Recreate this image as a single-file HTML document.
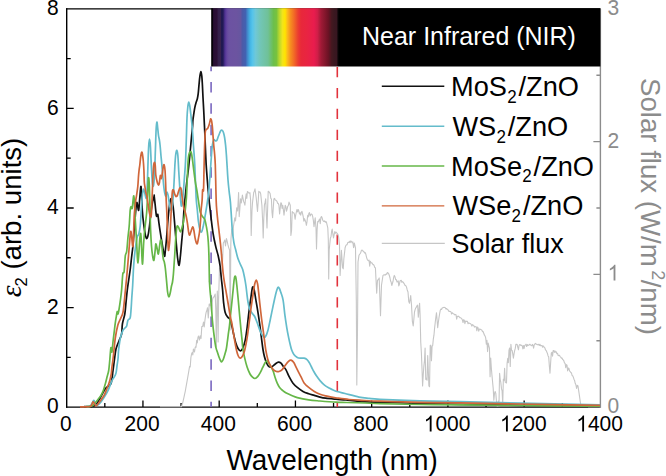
<!DOCTYPE html>
<html><head><meta charset="utf-8"><title>Chart</title>
<style>html,body{margin:0;padding:0;background:#fff;width:666px;height:476px;overflow:hidden}svg{display:block;position:absolute;left:0;top:0}</style>
</head><body><svg width="666" height="476" viewBox="0 0 666 476"><defs><linearGradient id="spec" gradientUnits="userSpaceOnUse" x1="211.2" y1="0" x2="339.0" y2="0"><stop offset="0.0000" stop-color="#000000"/><stop offset="0.0110" stop-color="#07030a"/><stop offset="0.0188" stop-color="#280f33"/><stop offset="0.0454" stop-color="#2c1036"/><stop offset="0.0548" stop-color="#34204a"/><stop offset="0.0736" stop-color="#38224e"/><stop offset="0.0814" stop-color="#1e1850"/><stop offset="0.0923" stop-color="#221a56"/><stop offset="0.1080" stop-color="#503294"/><stop offset="0.1236" stop-color="#6648a0"/><stop offset="0.1393" stop-color="#6c52a2"/><stop offset="0.1972" stop-color="#6c54a0"/><stop offset="0.2293" stop-color="#6656a0"/><stop offset="0.2449" stop-color="#4c5aa8"/><stop offset="0.2684" stop-color="#4262b2"/><stop offset="0.2864" stop-color="#4290d0"/><stop offset="0.3052" stop-color="#44b6e6"/><stop offset="0.3232" stop-color="#56c4ea"/><stop offset="0.3466" stop-color="#6ec8d8"/><stop offset="0.3818" stop-color="#72c6b8"/><stop offset="0.4444" stop-color="#70c198"/><stop offset="0.4875" stop-color="#6cbf4c"/><stop offset="0.5110" stop-color="#78c23e"/><stop offset="0.5305" stop-color="#b4d530"/><stop offset="0.5579" stop-color="#f0e41c"/><stop offset="0.5775" stop-color="#ffe400"/><stop offset="0.5970" stop-color="#fbb81c"/><stop offset="0.6205" stop-color="#f68e20"/><stop offset="0.6479" stop-color="#f26a26"/><stop offset="0.6792" stop-color="#eb3e30"/><stop offset="0.7027" stop-color="#e8283a"/><stop offset="0.7496" stop-color="#e92442"/><stop offset="0.8044" stop-color="#e91c4e"/><stop offset="0.8318" stop-color="#d01e48"/><stop offset="0.8592" stop-color="#a01a36"/><stop offset="0.8905" stop-color="#84162c"/><stop offset="0.9178" stop-color="#6a1224"/><stop offset="0.9413" stop-color="#461820"/><stop offset="0.9609" stop-color="#3a1820"/><stop offset="0.9804" stop-color="#381620"/><stop offset="0.9937" stop-color="#0a0608"/><stop offset="1.0000" stop-color="#000000"/></linearGradient></defs><line x1="66.7" y1="8.2" x2="66.7" y2="407.8" stroke="#000" stroke-width="1.4"/><line x1="66.0" y1="8.9" x2="600.4" y2="8.9" stroke="#000" stroke-width="1.4"/><line x1="66.0" y1="407.1" x2="600.4" y2="407.1" stroke="#000" stroke-width="1.4"/><line x1="600.4" y1="8.9" x2="600.4" y2="407.8" stroke="#8c8c8c" stroke-width="1.4"/><path d="M104.82,407.10V403.10 M142.94,407.10V400.60 M181.06,407.10V403.10 M219.19,407.10V400.60 M257.31,407.10V403.10 M295.43,407.10V400.60 M333.55,407.10V403.10 M371.67,407.10V400.60 M409.79,407.10V403.10 M447.91,407.10V400.60 M486.04,407.10V403.10 M524.16,407.10V400.60 M562.28,407.10V403.10 M66.70,357.33H70.70 M66.70,307.55H73.70 M66.70,257.77H70.70 M66.70,208.00H73.70 M66.70,158.22H70.70 M66.70,108.45H73.70 M66.70,58.67H70.70" stroke="#000" stroke-width="1.3" fill="none"/><path d="M600.40,340.73H596.40 M600.40,274.37H593.40 M600.40,208.00H596.40 M600.40,141.63H593.40 M600.40,75.27H596.40" stroke="#8c8c8c" stroke-width="1.3" fill="none"/><line x1="211.1" y1="66.5" x2="211.1" y2="407" stroke="#7a68c0" stroke-width="1.6" stroke-dasharray="10.5 10.82" stroke-dashoffset="5.8"/><line x1="337.3" y1="67.0" x2="337.3" y2="407" stroke="#e2323c" stroke-width="1.6" stroke-dasharray="10.2 10.73" stroke-dashoffset="0"/><path d="M160.00,406.70 L160.61,406.70 L161.22,406.70 L161.83,406.70 L162.45,406.70 L163.06,406.70 L163.67,406.70 L164.28,406.70 L164.89,406.70 L165.50,406.70 L166.11,406.70 L166.73,406.70 L167.34,406.70 L167.95,406.70 L168.56,406.70 L169.17,406.70 L169.78,406.70 L170.39,406.70 L171.01,406.70 L171.62,406.70 L172.23,406.70 L172.84,406.70 L173.45,406.70 L174.06,406.70 L174.67,406.70 L175.29,406.70 L175.90,406.70 L176.51,406.70 L177.12,406.70 L177.73,406.70 L178.34,406.70 L178.95,406.70 L179.57,406.70 L180.18,406.70 L180.79,406.70 L181.40,406.70 L182.05,404.85 L182.70,403.00 L183.32,400.15 L183.95,397.30 L184.57,394.45 L185.20,391.60 L185.82,388.12 L186.45,384.65 L187.07,381.18 L187.70,377.70 L188.33,373.93 L188.97,370.17 L189.60,366.40 L190.25,366.83 L190.90,357.60 L191.55,354.02 L192.20,352.50 L192.80,354.96 L193.40,349.00 L194.50,352.00 L195.23,347.02 L195.97,347.36 L196.70,340.40 L197.30,342.83 L197.90,337.77 L198.50,336.00 L199.50,340.00 L200.27,335.72 L201.03,338.50 L201.80,326.60 L202.65,326.38 L203.50,322.00 L204.20,327.00 L204.90,320.64 L205.60,315.20 L206.23,311.93 L206.87,310.53 L207.50,307.70 L208.30,318.00 L209.20,304.00 L209.90,305.71 L210.60,302.60 L211.50,312.00 L212.60,299.00 L213.30,297.29 L214.00,297.00 L215.20,294.00 L215.80,310.00 L216.30,347.00 L216.80,310.00 L217.30,291.00 L217.70,300.00 L218.10,342.00 L218.60,300.00 L219.50,268.00 L220.20,275.00 L220.95,264.33 L221.70,254.00 L222.50,262.00 L223.30,243.10 L224.05,241.76 L224.80,240.00 L225.50,246.00 L226.40,238.50 L227.15,241.12 L227.90,244.70 L228.75,247.83 L229.60,250.00 L230.20,330.00 L230.80,245.00 L231.00,238.50 L231.80,229.10 L232.90,236.00 L233.50,226.00 L234.15,222.08 L234.80,217.80 L235.50,221.00 L236.70,207.70 L237.60,211.00 L238.60,192.60 L239.20,216.60 L239.85,208.65 L240.50,198.90 L241.30,203.00 L242.40,195.10 L243.60,201.40 L244.25,202.79 L244.90,205.20 L245.55,198.63 L246.20,193.90 L246.80,198.33 L247.40,191.53 L248.00,192.00 L248.63,192.83 L249.27,193.30 L249.90,192.60 L250.60,200.00 L251.20,235.50 L252.00,210.00 L252.50,202.70 L253.70,192.60 L254.35,191.17 L255.00,188.80 L256.20,197.70 L256.85,204.79 L257.50,211.50 L258.15,202.22 L258.80,191.30 L259.43,192.10 L260.07,191.98 L260.70,193.90 L261.90,205.20 L262.60,220.00 L263.20,238.00 L263.80,218.00 L264.40,205.20 L265.05,202.40 L265.70,198.90 L266.35,214.17 L267.00,227.90 L268.20,191.30 L268.85,191.68 L269.50,192.60 L270.13,193.55 L270.77,198.30 L271.40,198.90 L272.00,212.23 L272.60,217.80 L273.25,208.09 L273.90,198.90 L274.53,198.33 L275.17,199.89 L275.80,200.20 L277.00,201.40 L277.63,203.43 L278.27,203.40 L278.90,205.20 L279.60,214.00 L280.80,202.70 L281.43,203.19 L282.07,208.35 L282.70,205.20 L283.35,209.61 L284.00,215.30 L285.20,205.20 L285.83,206.43 L286.47,211.26 L287.10,209.00 L287.73,206.39 L288.37,205.49 L289.00,202.10 L289.65,203.69 L290.30,205.20 L290.90,235.50 L291.55,230.42 L292.20,211.50 L293.00,212.77 L293.80,212.70 L294.43,214.25 L295.07,219.30 L295.70,215.20 L296.90,209.50 L297.53,211.93 L298.17,209.56 L298.80,210.80 L299.43,213.95 L300.07,212.78 L300.70,215.20 L301.35,212.16 L302.00,211.40 L303.20,216.50 L303.83,221.30 L304.47,218.67 L305.10,220.30 L305.75,221.89 L306.40,225.30 L307.05,221.43 L307.70,215.20 L308.30,216.84 L308.90,213.16 L309.50,212.70 L310.13,216.04 L310.77,214.65 L311.40,214.00 L312.05,214.40 L312.70,216.50 L313.35,220.41 L314.00,226.60 L315.20,217.70 L316.00,228.00 L316.50,249.00 L317.10,230.00 L317.70,221.50 L318.33,221.82 L318.97,220.30 L319.60,219.00 L320.23,223.71 L320.87,217.41 L321.50,216.50 L322.15,217.99 L322.80,220.30 L323.43,221.25 L324.07,221.55 L324.70,220.90 L325.33,222.30 L325.97,221.51 L326.60,222.80 L327.80,227.80 L328.30,240.00 L328.70,279.00 L329.20,250.00 L330.40,237.90 L331.00,236.76 L331.60,231.50 L332.20,229.10 L332.85,233.96 L333.50,237.90 L334.15,234.62 L334.80,231.60 L335.43,233.20 L336.07,232.14 L336.70,232.90 L337.33,233.51 L337.97,234.72 L338.60,236.70 L339.50,245.00 L340.10,275.40 L340.75,263.76 L341.40,250.20 L342.00,258.95 L342.60,267.80 L343.23,268.80 L343.85,258.73 L344.48,253.33 L345.10,247.70 L345.75,245.78 L346.40,244.82 L347.05,244.82 L347.70,242.60 L348.32,242.20 L348.93,242.65 L349.55,241.25 L350.17,242.61 L350.78,240.89 L351.40,241.40 L352.12,242.76 L352.85,241.90 L353.57,247.75 L354.30,243.00 L355.50,248.00 L356.30,300.00 L356.80,385.00 L357.50,330.00 L358.00,262.00 L359.00,255.20 L359.62,254.25 L360.25,253.57 L360.88,252.19 L361.50,250.20 L362.13,250.04 L362.77,250.62 L363.40,251.62 L364.03,251.70 L364.67,253.10 L365.30,252.70 L365.93,254.52 L366.55,257.31 L367.18,259.24 L367.80,260.30 L368.43,260.78 L369.07,260.17 L369.70,266.11 L370.33,261.31 L370.97,262.83 L371.60,262.80 L372.23,263.29 L372.87,264.58 L373.50,264.51 L374.13,265.63 L374.77,267.51 L375.40,267.80 L376.05,280.57 L376.70,293.10 L377.50,280.00 L378.35,279.77 L379.20,277.90 L379.85,297.08 L380.50,315.80 L381.50,285.00 L382.25,280.22 L383.00,275.40 L383.62,274.99 L384.25,274.73 L384.88,274.86 L385.50,275.03 L386.12,273.96 L386.75,274.20 L387.38,272.46 L388.00,272.90 L388.67,273.75 L389.33,275.45 L390.00,278.00 L390.60,281.07 L391.20,282.31 L391.80,285.50 L392.43,283.30 L393.05,281.22 L393.68,277.36 L394.30,275.40 L394.98,276.85 L395.65,279.68 L396.32,279.67 L397.00,282.00 L397.60,281.78 L398.20,280.89 L398.80,285.91 L399.40,284.21 L400.00,281.00 L400.60,280.50 L401.24,280.25 L401.88,282.33 L402.51,281.58 L403.15,282.08 L403.79,283.17 L404.43,284.09 L405.06,285.51 L405.70,285.50 L406.47,286.97 L407.23,289.97 L408.00,292.00 L408.75,301.53 L409.50,303.20 L410.70,295.60 L411.50,305.00 L412.35,321.05 L413.20,325.90 L413.85,319.22 L414.50,312.00 L415.12,309.59 L415.75,307.98 L416.38,307.18 L417.00,305.70 L417.65,305.18 L418.30,317.25 L418.95,310.26 L419.60,303.20 L420.10,315.20 L420.75,342.16 L421.40,353.00 L422.00,368.48 L422.60,385.90 L423.25,374.75 L423.90,365.70 L424.50,360.55 L425.10,348.00 L425.75,379.36 L426.40,378.30 L427.05,380.28 L427.70,355.60 L428.90,385.90 L429.55,386.79 L430.20,345.50 L430.82,345.16 L431.45,360.79 L432.07,346.44 L432.70,345.50 L433.32,339.04 L433.95,335.18 L434.57,328.36 L435.20,322.80 L435.85,317.22 L436.50,312.70 L437.70,327.80 L438.35,322.23 L439.00,317.70 L439.65,313.66 L440.30,310.20 L440.93,309.08 L441.55,309.39 L442.18,308.06 L442.80,307.70 L443.43,307.45 L444.05,307.29 L444.68,307.42 L445.30,307.70 L445.93,308.88 L446.57,308.63 L447.20,309.32 L447.83,309.57 L448.47,310.75 L449.10,311.40 L449.73,311.37 L450.35,311.46 L450.98,311.88 L451.60,314.06 L452.23,312.70 L452.85,313.39 L453.48,313.86 L454.10,314.00 L454.74,314.82 L455.38,314.53 L456.02,314.69 L456.66,319.16 L457.30,316.32 L457.94,316.50 L458.58,316.16 L459.22,316.97 L459.86,317.70 L460.50,317.70 L461.13,318.18 L461.76,318.68 L462.39,319.92 L463.02,322.56 L463.65,319.67 L464.28,320.13 L464.91,323.74 L465.54,321.04 L466.17,321.16 L466.80,321.50 L467.43,321.36 L468.06,323.76 L468.69,322.92 L469.32,323.31 L469.95,323.39 L470.58,323.75 L471.21,324.48 L471.84,326.15 L472.47,324.62 L473.10,325.30 L473.73,325.38 L474.35,327.15 L474.98,326.44 L475.60,326.76 L476.23,326.88 L476.85,330.82 L477.48,327.13 L478.10,327.80 L478.74,331.18 L479.38,329.13 L480.01,329.16 L480.65,329.35 L481.29,329.83 L481.93,330.22 L482.56,331.67 L483.20,331.60 L483.82,333.56 L484.45,335.21 L485.07,336.00 L485.70,337.90 L486.32,344.17 L486.95,340.41 L487.57,351.58 L488.20,343.00 L488.82,345.86 L489.45,348.06 L490.07,376.77 L490.70,358.10 L491.35,368.02 L492.00,375.80 L493.20,388.40 L493.85,400.28 L494.50,393.39 L495.15,391.45 L495.80,393.40 L496.43,400.90 L497.05,406.00 L497.68,406.00 L498.30,401.00 L498.95,406.00 L499.60,373.20 L500.23,379.55 L500.85,382.70 L501.48,388.68 L502.10,390.90 L502.73,403.77 L503.35,379.30 L503.98,380.43 L504.60,368.20 L505.23,382.11 L505.85,382.48 L506.48,382.98 L507.10,363.20 L507.73,358.40 L508.35,362.82 L508.98,350.34 L509.60,348.00 L510.25,366.49 L510.90,344.20 L511.52,350.16 L512.15,350.43 L512.77,353.81 L513.40,358.10 L514.02,353.81 L514.65,350.67 L515.27,348.45 L515.90,344.20 L516.54,344.19 L517.17,344.57 L517.81,347.47 L518.45,349.80 L519.09,345.27 L519.73,344.61 L520.36,344.83 L521.00,345.50 L521.62,345.23 L522.25,345.87 L522.88,348.89 L523.50,345.64 L524.12,348.43 L524.75,345.38 L525.38,345.07 L526.00,344.20 L526.64,346.48 L527.27,344.57 L527.91,345.57 L528.55,345.14 L529.19,344.93 L529.83,344.25 L530.46,344.80 L531.10,345.50 L531.73,345.63 L532.35,344.43 L532.98,345.29 L533.60,348.17 L534.23,344.85 L534.85,343.97 L535.48,343.38 L536.10,344.20 L536.74,344.28 L537.38,344.81 L538.01,344.64 L538.65,344.34 L539.29,345.42 L539.93,344.22 L540.56,345.69 L541.20,345.50 L541.82,345.43 L542.43,347.18 L543.05,345.82 L543.67,347.01 L544.28,346.98 L544.90,348.00 L545.53,349.96 L546.17,350.38 L546.80,352.07 L547.43,353.39 L548.07,355.94 L548.70,356.90 L549.35,365.95 L550.00,373.20 L550.65,362.52 L551.30,353.10 L551.92,352.28 L552.55,356.27 L553.17,350.58 L553.80,350.50 L554.42,352.35 L555.05,350.94 L555.67,352.24 L556.30,351.80 L556.92,353.75 L557.55,353.36 L558.17,355.52 L558.80,355.60 L559.45,355.29 L560.10,356.61 L560.75,357.14 L561.40,358.10 L562.02,357.96 L562.63,359.50 L563.25,359.90 L563.87,360.91 L564.48,362.99 L565.10,363.20 L565.73,367.79 L566.37,364.61 L567.00,365.09 L567.63,370.97 L568.27,367.99 L568.90,368.20 L569.53,370.80 L570.17,371.57 L570.80,372.49 L571.43,372.94 L572.07,375.45 L572.70,375.80 L573.33,377.20 L573.95,379.18 L574.58,380.43 L575.20,383.30 L575.90,384.81 L576.60,388.47 L577.30,385.28 L578.00,386.00 L578.60,390.10 L579.20,394.20 L579.80,398.30 L580.40,402.40 L581.00,406.50 L581.61,406.51 L582.23,406.51 L582.84,406.52 L583.45,406.53 L584.06,406.53 L584.68,406.54 L585.29,406.55 L585.90,406.55 L586.52,406.56 L587.13,406.56 L587.74,406.57 L588.35,406.58 L588.97,406.58 L589.58,406.59 L590.19,406.60 L590.81,406.60 L591.42,406.61 L592.03,406.62 L592.65,406.62 L593.26,406.63 L593.87,406.64 L594.48,406.64 L595.10,406.65 L595.71,406.65 L596.32,406.66 L596.94,406.67 L597.55,406.67 L598.16,406.68 L598.77,406.69 L599.39,406.69 L600.00,406.70" fill="none" stroke="#c6c6c6" stroke-width="1.1" stroke-linejoin="round"/><path d="M84.00,406.60 C85.33,406.55 90.00,406.63 92.00,406.30 C94.00,405.97 94.72,405.85 96.00,404.60 C97.28,403.35 98.62,400.65 99.70,398.80 C100.78,396.95 101.53,395.22 102.50,393.50 C103.47,391.78 104.50,389.75 105.50,388.50 C106.50,387.25 107.62,386.75 108.50,386.00 C109.38,385.25 110.20,385.33 110.80,384.00 C111.40,382.67 111.75,380.08 112.10,378.00 C112.45,375.92 112.52,374.50 112.90,371.50 C113.28,368.50 113.88,363.75 114.40,360.00 C114.92,356.25 115.23,352.17 116.00,349.00 C116.77,345.83 118.07,343.48 119.00,341.00 C119.93,338.52 121.03,336.93 121.60,334.10 C122.17,331.27 121.87,327.35 122.40,324.00 C122.93,320.65 124.20,317.57 124.80,314.00 C125.40,310.43 125.58,306.60 126.00,302.60 C126.42,298.60 126.80,294.10 127.30,290.00 C127.80,285.90 128.48,281.67 129.00,278.00 C129.52,274.33 129.98,271.33 130.40,268.00 C130.82,264.67 131.07,261.83 131.50,258.00 C131.93,254.17 132.45,251.00 133.00,245.00 C133.55,239.00 134.18,229.05 134.80,222.00 C135.42,214.95 136.07,204.65 136.70,202.70 C137.33,200.75 138.07,211.35 138.60,210.30 C139.13,209.25 139.48,200.30 139.90,196.40 C140.32,192.50 140.68,184.38 141.10,186.90 C141.52,189.42 141.97,205.30 142.40,211.50 C142.83,217.70 143.23,220.35 143.70,224.10 C144.17,227.85 144.73,231.60 145.20,234.00 C145.67,236.40 146.03,238.25 146.50,238.50 C146.97,238.75 147.50,237.58 148.00,235.50 C148.50,233.42 149.00,229.92 149.50,226.00 C150.00,222.08 150.48,216.08 151.00,212.00 C151.52,207.92 152.07,204.17 152.60,201.50 C153.13,198.83 153.93,196.92 154.20,196.00 C154.20,195.08 154.20,194.33 154.20,196.00 C154.38,197.67 154.95,202.78 155.30,206.00 C155.65,209.22 156.00,213.63 156.30,215.30 C156.60,216.97 156.85,216.13 157.10,216.00 C157.35,215.87 157.52,213.50 157.80,214.50 C158.08,215.50 158.43,219.35 158.80,222.00 C159.17,224.65 159.47,226.90 160.00,230.40 C160.53,233.90 161.27,238.73 162.00,243.00 C162.73,247.27 163.85,254.67 164.40,256.00 C164.95,257.33 164.97,253.67 165.30,251.00 C165.63,248.33 165.98,244.83 166.40,240.00 C166.82,235.17 167.30,227.67 167.80,222.00 C168.30,216.33 168.90,209.83 169.40,206.00 C169.90,202.17 170.33,199.83 170.80,199.00 C171.27,198.17 171.75,199.17 172.20,201.00 C172.65,202.83 173.03,205.50 173.50,210.00 C173.97,214.50 174.50,222.00 175.00,228.00 C175.50,234.00 176.07,241.00 176.50,246.00 C176.93,251.00 177.17,254.78 177.60,258.00 C178.03,261.22 178.63,265.63 179.10,265.30 C179.57,264.97 179.98,259.78 180.40,256.00 C180.82,252.22 181.18,247.27 181.60,242.60 C182.02,237.93 182.48,233.80 182.90,228.00 C183.32,222.20 183.68,213.27 184.10,207.80 C184.52,202.33 184.97,199.40 185.40,195.20 C185.83,191.00 186.22,186.80 186.70,182.60 C187.18,178.40 187.87,173.70 188.30,170.00 C188.73,166.30 188.93,164.07 189.30,160.40 C189.67,156.73 190.12,152.07 190.50,148.00 C190.88,143.93 191.25,139.67 191.60,136.00 C191.95,132.33 192.38,128.63 192.60,126.00 C192.82,123.37 192.70,122.22 192.90,120.20 C193.10,118.18 193.48,116.00 193.80,113.90 C194.12,111.80 194.42,109.48 194.80,107.60 C195.18,105.72 195.67,104.12 196.10,102.60 C196.53,101.08 197.05,99.98 197.40,98.50 C197.75,97.02 197.93,95.97 198.20,93.70 C198.47,91.43 198.72,87.83 199.00,84.90 C199.28,81.97 199.58,78.30 199.90,76.10 C200.22,73.90 200.58,71.70 200.90,71.70 C201.22,71.70 201.55,73.90 201.80,76.10 C202.05,78.30 202.20,81.33 202.40,84.90 C202.60,88.47 202.78,93.30 203.00,97.50 C203.22,101.70 203.48,105.90 203.70,110.10 C203.92,114.30 204.10,118.55 204.30,122.70 C204.50,126.85 204.70,130.45 204.90,135.00 C205.10,139.55 205.28,145.00 205.50,150.00 C205.72,155.00 205.90,160.00 206.20,165.00 C206.50,170.00 206.90,175.00 207.30,180.00 C207.70,185.00 208.07,189.50 208.60,195.00 C209.13,200.50 209.77,206.67 210.50,213.00 C211.23,219.33 212.13,227.43 213.00,233.00 C213.87,238.57 214.83,242.60 215.70,246.40 C216.57,250.20 217.47,252.53 218.20,255.80 C218.93,259.07 219.58,262.30 220.10,266.00 C220.62,269.70 220.88,274.00 221.30,278.00 C221.72,282.00 222.22,285.90 222.60,290.00 C222.98,294.10 223.17,298.85 223.60,302.60 C224.03,306.35 224.53,310.08 225.20,312.50 C225.87,314.92 226.78,315.93 227.60,317.10 C228.42,318.27 229.37,317.92 230.10,319.50 C230.83,321.08 231.37,323.95 232.00,326.60 C232.63,329.25 233.27,332.67 233.90,335.40 C234.53,338.13 235.08,340.77 235.80,343.00 C236.52,345.23 237.42,347.50 238.20,348.80 C238.98,350.10 239.77,350.85 240.50,350.80 C241.23,350.75 241.82,350.23 242.60,348.50 C243.38,346.77 244.45,343.85 245.20,340.40 C245.95,336.95 246.47,332.63 247.10,327.80 C247.73,322.97 248.37,316.43 249.00,311.40 C249.63,306.37 250.30,301.63 250.90,297.60 C251.50,293.57 252.05,288.47 252.60,287.20 C253.15,285.93 253.65,287.85 254.20,290.00 C254.75,292.15 255.30,296.53 255.90,300.10 C256.50,303.67 257.17,307.42 257.80,311.40 C258.43,315.38 259.10,319.65 259.70,324.00 C260.30,328.35 260.87,333.33 261.40,337.50 C261.93,341.67 262.40,345.83 262.90,349.00 C263.40,352.17 263.83,354.30 264.40,356.50 C264.97,358.70 265.65,360.62 266.30,362.20 C266.95,363.78 267.63,365.17 268.30,366.00 C268.97,366.83 269.60,367.13 270.30,367.20 C271.00,367.27 271.67,366.93 272.50,366.40 C273.33,365.87 274.32,364.72 275.30,364.00 C276.28,363.28 277.45,362.23 278.40,362.10 C279.35,361.97 280.17,362.47 281.00,363.20 C281.83,363.93 282.57,365.40 283.40,366.50 C284.23,367.60 285.00,368.02 286.00,369.80 C287.00,371.58 288.27,375.02 289.40,377.20 C290.53,379.38 291.48,381.20 292.80,382.90 C294.12,384.60 295.60,385.98 297.30,387.40 C299.00,388.82 301.10,390.35 303.00,391.40 C304.90,392.45 306.82,393.03 308.70,393.70 C310.58,394.37 312.42,394.83 314.30,395.40 C316.18,395.97 318.10,396.63 320.00,397.10 C321.90,397.57 323.03,397.85 325.70,398.20 C328.37,398.55 332.62,398.90 336.00,399.20 C339.38,399.50 342.17,399.65 346.00,400.00 C349.83,400.35 353.33,400.93 359.00,401.30 C364.67,401.67 369.83,401.85 380.00,402.20 C390.17,402.55 406.67,403.03 420.00,403.40 C433.33,403.77 443.33,404.08 460.00,404.40 C476.67,404.72 496.67,405.03 520.00,405.30 C543.33,405.57 586.67,405.88 600.00,406.00" fill="none" stroke="#111111" stroke-width="1.7" stroke-linejoin="round"/><path d="M87.00,406.60 C87.50,406.55 89.13,406.90 90.00,406.30 C90.87,405.70 91.53,403.97 92.20,403.00 C92.87,402.03 93.37,400.17 94.00,400.50 C94.63,400.83 95.17,404.38 96.00,405.00 C96.83,405.62 97.67,405.45 99.00,404.20 C100.33,402.95 102.48,399.80 104.00,397.50 C105.52,395.20 106.80,393.15 108.10,390.40 C109.40,387.65 110.65,383.45 111.80,381.00 C112.95,378.55 114.28,377.10 115.00,375.70 C115.72,374.30 115.75,374.35 116.10,372.60 C116.45,370.85 116.77,367.63 117.10,365.20 C117.43,362.77 117.85,360.53 118.10,358.00 C118.35,355.47 118.22,353.33 118.60,350.00 C118.98,346.67 119.68,341.27 120.40,338.00 C121.12,334.73 122.13,332.07 122.90,330.40 C123.67,328.73 124.37,328.73 125.00,328.00 C125.63,327.27 126.22,327.28 126.70,326.00 C127.18,324.72 127.32,321.68 127.90,320.30 C128.48,318.92 129.67,319.60 130.20,317.70 C130.73,315.80 130.83,312.25 131.10,308.90 C131.37,305.55 131.53,301.58 131.80,297.60 C132.07,293.62 132.43,289.60 132.70,285.00 C132.97,280.40 133.13,274.50 133.40,270.00 C133.67,265.50 133.92,262.00 134.30,258.00 C134.68,254.00 135.22,249.50 135.70,246.00 C136.18,242.50 136.68,239.00 137.20,237.00 C137.72,235.00 138.30,235.83 138.80,234.00 C139.30,232.17 139.77,230.33 140.20,226.00 C140.63,221.67 141.02,213.33 141.40,208.00 C141.78,202.67 142.13,197.17 142.50,194.00 C142.87,190.83 143.18,189.00 143.60,189.00 C144.02,189.00 144.55,192.50 145.00,194.00 C145.45,195.50 145.92,199.50 146.30,198.00 C146.68,196.50 147.00,191.33 147.30,185.00 C147.60,178.67 147.87,166.50 148.10,160.00 C148.33,153.50 148.47,149.47 148.70,146.00 C148.93,142.53 149.22,139.20 149.50,139.20 C149.78,139.20 150.10,141.70 150.40,146.00 C150.70,150.30 150.98,159.00 151.30,165.00 C151.62,171.00 151.95,178.50 152.30,182.00 C152.65,185.50 153.03,187.17 153.40,186.00 C153.77,184.83 154.17,181.00 154.50,175.00 C154.83,169.00 155.13,157.50 155.40,150.00 C155.67,142.50 155.85,134.67 156.10,130.00 C156.35,125.33 156.63,122.33 156.90,122.00 C157.17,121.67 157.43,125.75 157.70,128.00 C157.97,130.25 158.23,133.58 158.50,135.50 C158.77,137.42 159.03,137.83 159.30,139.50 C159.57,141.17 159.82,142.75 160.10,145.50 C160.38,148.25 160.75,153.25 161.00,156.00 C161.25,158.75 161.30,158.67 161.60,162.00 C161.90,165.33 162.37,171.33 162.80,176.00 C163.23,180.67 163.73,186.67 164.20,190.00 C164.67,193.33 165.13,195.67 165.60,196.00 C166.07,196.33 166.57,192.00 167.00,192.00 C167.43,192.00 167.77,193.78 168.20,196.00 C168.63,198.22 169.13,202.97 169.60,205.30 C170.07,207.63 170.50,210.22 171.00,210.00 C171.50,209.78 172.12,208.17 172.60,204.00 C173.08,199.83 173.52,191.50 173.90,185.00 C174.28,178.50 174.58,170.17 174.90,165.00 C175.22,159.83 175.47,156.43 175.80,154.00 C176.13,151.57 176.55,150.07 176.90,150.40 C177.25,150.73 177.58,152.40 177.90,156.00 C178.22,159.60 178.48,166.67 178.80,172.00 C179.12,177.33 179.50,183.33 179.80,188.00 C180.10,192.67 180.30,197.00 180.60,200.00 C180.90,203.00 181.20,206.67 181.60,206.00 C182.00,205.33 182.53,200.67 183.00,196.00 C183.47,191.33 183.98,183.67 184.40,178.00 C184.82,172.33 185.18,168.33 185.50,162.00 C185.82,155.67 186.05,147.33 186.30,140.00 C186.55,132.67 186.73,123.67 187.00,118.00 C187.27,112.33 187.60,108.67 187.90,106.00 C188.20,103.33 188.48,102.00 188.80,102.00 C189.12,102.00 189.43,103.67 189.80,106.00 C190.17,108.33 190.60,112.50 191.00,116.00 C191.40,119.50 191.80,122.17 192.20,127.00 C192.60,131.83 193.02,139.50 193.40,145.00 C193.78,150.50 194.20,155.00 194.50,160.00 C194.80,165.00 194.98,170.00 195.20,175.00 C195.42,180.00 195.62,185.75 195.80,190.00 C195.98,194.25 196.03,197.00 196.30,200.50 C196.57,204.00 197.05,207.50 197.40,211.00 C197.75,214.50 197.97,218.35 198.40,221.50 C198.83,224.65 199.47,228.15 200.00,229.90 C200.53,231.65 201.08,232.52 201.60,232.00 C202.12,231.48 202.58,229.07 203.10,226.80 C203.62,224.53 204.17,221.38 204.70,218.40 C205.23,215.42 205.77,212.23 206.30,208.90 C206.83,205.57 207.47,201.55 207.90,198.40 C208.33,195.25 208.55,193.73 208.90,190.00 C209.25,186.27 209.67,180.50 210.00,176.00 C210.33,171.50 210.62,167.00 210.90,163.00 C211.18,159.00 211.45,155.00 211.70,152.00 C211.95,149.00 212.05,147.03 212.40,145.00 C212.75,142.97 213.32,140.50 213.80,139.80 C214.28,139.10 214.80,140.68 215.30,140.80 C215.80,140.92 216.30,141.22 216.80,140.50 C217.30,139.78 217.82,137.75 218.30,136.50 C218.78,135.25 219.25,134.03 219.70,133.00 C220.15,131.97 220.55,130.72 221.00,130.30 C221.45,129.88 221.97,130.05 222.40,130.50 C222.83,130.95 223.23,131.83 223.60,133.00 C223.97,134.17 224.27,135.45 224.60,137.50 C224.93,139.55 225.30,142.38 225.60,145.30 C225.90,148.22 226.15,151.55 226.40,155.00 C226.65,158.45 226.83,161.83 227.10,166.00 C227.37,170.17 227.65,175.67 228.00,180.00 C228.35,184.33 228.80,188.33 229.20,192.00 C229.60,195.67 230.02,197.67 230.40,202.00 C230.78,206.33 231.18,213.33 231.50,218.00 C231.82,222.67 231.90,225.90 232.30,230.00 C232.70,234.10 233.32,239.23 233.90,242.60 C234.48,245.97 235.17,247.68 235.80,250.20 C236.43,252.72 236.97,255.40 237.70,257.70 C238.43,260.00 239.37,262.03 240.20,264.00 C241.03,265.97 241.97,267.18 242.70,269.50 C243.43,271.82 244.07,275.23 244.60,277.90 C245.13,280.57 245.53,282.98 245.90,285.50 C246.27,288.02 246.45,290.25 246.80,293.00 C247.15,295.75 247.53,299.35 248.00,302.00 C248.47,304.65 248.90,307.02 249.60,308.90 C250.30,310.78 251.35,312.03 252.20,313.30 C253.05,314.57 253.87,314.92 254.70,316.50 C255.53,318.08 256.25,320.28 257.20,322.80 C258.15,325.32 259.40,329.35 260.40,331.60 C261.40,333.85 262.37,335.45 263.20,336.30 C264.03,337.15 264.62,337.68 265.40,336.70 C266.18,335.72 267.07,333.35 267.90,330.40 C268.73,327.45 269.55,323.00 270.40,319.00 C271.25,315.00 272.15,310.40 273.00,306.40 C273.85,302.40 274.83,297.82 275.50,295.00 C276.17,292.18 276.57,290.80 277.00,289.50 C277.43,288.20 277.70,287.37 278.10,287.20 C278.50,287.03 278.97,287.70 279.40,288.50 C279.83,289.30 280.08,290.07 280.70,292.00 C281.32,293.93 282.40,296.23 283.10,300.10 C283.80,303.97 284.28,310.58 284.90,315.20 C285.52,319.82 286.17,324.02 286.80,327.80 C287.43,331.58 288.13,335.12 288.70,337.90 C289.27,340.68 289.70,342.48 290.20,344.50 C290.70,346.52 291.08,348.33 291.70,350.00 C292.32,351.67 292.97,353.27 293.90,354.50 C294.83,355.73 296.17,356.78 297.30,357.40 C298.43,358.02 299.57,358.07 300.70,358.20 C301.83,358.33 303.05,357.97 304.10,358.20 C305.15,358.43 306.15,358.88 307.00,359.60 C307.85,360.32 308.45,361.27 309.20,362.50 C309.95,363.73 310.73,365.50 311.50,367.00 C312.27,368.50 312.95,369.98 313.80,371.50 C314.65,373.02 315.57,374.58 316.60,376.10 C317.63,377.62 318.68,379.10 320.00,380.60 C321.32,382.10 322.98,383.87 324.50,385.10 C326.02,386.33 327.58,387.15 329.10,388.00 C330.62,388.85 332.12,389.57 333.60,390.20 C335.08,390.83 336.10,391.25 338.00,391.80 C339.90,392.35 341.50,392.62 345.00,393.50 C348.50,394.38 354.98,396.28 359.00,397.10 C363.02,397.92 365.60,398.03 369.10,398.40 C372.60,398.77 371.52,398.90 380.00,399.30 C388.48,399.70 406.67,400.42 420.00,400.80 C433.33,401.18 443.33,401.20 460.00,401.60 C476.67,402.00 496.67,402.67 520.00,403.20 C543.33,403.73 586.67,404.53 600.00,404.80" fill="none" stroke="#64bccb" stroke-width="1.7" stroke-linejoin="round"/><path d="M86.00,406.60 C87.00,406.50 90.50,406.57 92.00,406.00 C93.50,405.43 94.07,404.22 95.00,403.20 C95.93,402.18 96.63,401.15 97.60,399.90 C98.57,398.65 99.83,397.28 100.80,395.70 C101.77,394.12 102.62,392.50 103.40,390.40 C104.18,388.30 104.88,385.37 105.50,383.10 C106.12,380.83 106.57,378.90 107.10,376.80 C107.63,374.70 108.27,373.13 108.70,370.50 C109.13,367.87 109.38,364.42 109.70,361.00 C110.02,357.58 110.37,352.23 110.60,350.00 C110.83,347.77 110.88,347.27 111.10,347.60 C111.32,347.93 111.55,353.27 111.90,352.00 C112.25,350.73 112.80,343.50 113.20,340.00 C113.60,336.50 113.95,333.87 114.30,331.00 C114.65,328.13 114.95,325.30 115.30,322.80 C115.65,320.30 116.08,317.88 116.40,316.00 C116.72,314.12 116.93,311.83 117.20,311.50 C117.47,311.17 117.68,314.43 118.00,314.00 C118.32,313.57 118.70,311.22 119.10,308.90 C119.50,306.58 119.98,303.25 120.40,300.10 C120.82,296.95 121.20,294.35 121.60,290.00 C122.00,285.65 122.38,277.07 122.80,274.00 C123.22,270.93 123.68,274.60 124.10,271.60 C124.52,268.60 124.87,259.37 125.30,256.00 C125.73,252.63 126.27,254.40 126.70,251.40 C127.13,248.40 127.48,242.23 127.90,238.00 C128.32,233.77 128.82,230.67 129.20,226.00 C129.58,221.33 129.90,213.23 130.20,210.00 C130.50,206.77 130.67,206.85 131.00,206.60 C131.33,206.35 131.85,209.60 132.20,208.50 C132.55,207.40 132.83,202.08 133.10,200.00 C133.37,197.92 133.55,195.33 133.80,196.00 C134.05,196.67 134.35,199.93 134.60,204.00 C134.85,208.07 134.98,214.40 135.30,220.40 C135.62,226.40 136.05,232.93 136.50,240.00 C136.95,247.07 137.43,263.20 138.00,262.80 C138.57,262.40 139.40,242.07 139.90,237.60 C140.40,233.13 140.58,231.60 141.00,236.00 C141.42,240.40 141.97,262.67 142.40,264.00 C142.83,265.33 143.25,249.33 143.60,244.00 C143.95,238.67 144.17,235.67 144.50,232.00 C144.83,228.33 145.23,225.33 145.60,222.00 C145.97,218.67 146.37,216.50 146.70,212.00 C147.03,207.50 147.30,200.67 147.60,195.00 C147.90,189.33 148.22,179.67 148.50,178.00 C148.78,176.33 149.05,180.00 149.30,185.00 C149.55,190.00 149.78,200.50 150.00,208.00 C150.22,215.50 150.35,223.67 150.60,230.00 C150.85,236.33 151.18,241.80 151.50,246.00 C151.82,250.20 152.10,252.82 152.50,255.20 C152.90,257.58 153.45,261.17 153.90,260.30 C154.35,259.43 154.88,252.73 155.20,250.00 C155.52,247.27 155.50,244.23 155.80,243.90 C156.10,243.57 156.58,246.32 157.00,248.00 C157.42,249.68 157.87,254.33 158.30,254.00 C158.73,253.67 159.23,248.33 159.60,246.00 C159.97,243.67 160.18,240.67 160.50,240.00 C160.82,239.33 161.18,240.00 161.50,242.00 C161.82,244.00 162.10,249.17 162.40,252.00 C162.70,254.83 162.98,257.33 163.30,259.00 C163.62,260.67 163.97,260.50 164.30,262.00 C164.63,263.50 164.93,264.93 165.30,268.00 C165.67,271.07 166.12,276.40 166.50,280.40 C166.88,284.40 167.22,289.27 167.60,292.00 C167.98,294.73 168.37,296.63 168.80,296.80 C169.23,296.97 169.75,294.80 170.20,293.00 C170.65,291.20 171.12,287.83 171.50,286.00 C171.88,284.17 172.18,283.98 172.50,282.00 C172.82,280.02 173.03,278.57 173.40,274.10 C173.77,269.63 174.28,261.50 174.70,255.20 C175.12,248.90 175.52,241.08 175.90,236.30 C176.28,231.52 176.55,227.97 177.00,226.50 C177.45,225.03 178.02,226.58 178.60,227.50 C179.18,228.42 179.90,232.08 180.50,232.00 C181.10,231.92 181.72,228.67 182.20,227.00 C182.68,225.33 182.92,224.58 183.40,222.00 C183.88,219.42 184.60,215.50 185.10,211.50 C185.60,207.50 186.03,203.58 186.40,198.00 C186.77,192.42 187.03,184.00 187.30,178.00 C187.57,172.00 187.75,165.83 188.00,162.00 C188.25,158.17 188.47,156.70 188.80,155.00 C189.13,153.30 189.58,152.18 190.00,151.80 C190.42,151.42 190.88,151.33 191.30,152.70 C191.72,154.07 192.05,156.78 192.50,160.00 C192.95,163.22 193.50,168.17 194.00,172.00 C194.50,175.83 195.03,180.00 195.50,183.00 C195.97,186.00 196.32,187.08 196.80,190.00 C197.28,192.92 197.87,197.00 198.40,200.50 C198.93,204.00 199.48,208.58 200.00,211.00 C200.52,213.42 200.98,213.95 201.50,215.00 C202.02,216.05 202.57,216.57 203.10,217.30 C203.63,218.03 204.25,218.35 204.70,219.40 C205.15,220.45 205.37,221.50 205.80,223.60 C206.23,225.70 206.88,228.93 207.30,232.00 C207.72,235.07 208.03,238.17 208.30,242.00 C208.57,245.83 208.72,248.60 208.90,255.00 C209.08,261.40 209.32,276.17 209.40,280.40 C209.40,284.63 209.40,278.80 209.40,280.40 C209.50,282.00 209.70,286.30 210.00,290.00 C210.30,293.70 210.78,297.35 211.20,302.60 C211.62,307.85 211.97,315.62 212.50,321.50 C213.03,327.38 213.87,333.70 214.40,337.90 C214.93,342.10 215.27,344.52 215.70,346.70 C216.13,348.88 216.48,349.37 217.00,351.00 C217.52,352.63 218.22,354.92 218.80,356.50 C219.38,358.08 220.00,359.62 220.50,360.50 C221.00,361.38 221.32,362.05 221.80,361.80 C222.28,361.55 222.87,360.33 223.40,359.00 C223.93,357.67 224.52,355.47 225.00,353.80 C225.48,352.13 225.92,350.97 226.30,349.00 C226.68,347.03 226.98,344.33 227.30,342.00 C227.62,339.67 227.83,337.75 228.20,335.00 C228.57,332.25 229.08,329.08 229.50,325.50 C229.92,321.92 230.28,317.58 230.70,313.50 C231.12,309.42 231.58,305.08 232.00,301.00 C232.42,296.92 232.85,292.50 233.20,289.00 C233.55,285.50 233.82,282.13 234.10,280.00 C234.38,277.87 234.60,276.53 234.90,276.20 C235.20,275.87 235.55,276.20 235.90,278.00 C236.25,279.80 236.60,283.25 237.00,287.00 C237.40,290.75 237.88,296.00 238.30,300.50 C238.72,305.00 239.08,309.45 239.50,314.00 C239.92,318.55 240.37,323.40 240.80,327.80 C241.23,332.20 241.77,337.03 242.10,340.40 C242.43,343.77 242.38,345.13 242.80,348.00 C243.22,350.87 243.88,354.43 244.60,357.60 C245.32,360.77 246.20,364.27 247.10,367.00 C248.00,369.73 249.10,372.30 250.00,374.00 C250.90,375.70 251.67,376.45 252.50,377.20 C253.33,377.95 254.15,378.60 255.00,378.50 C255.85,378.40 256.75,377.55 257.60,376.60 C258.45,375.65 259.27,374.28 260.10,372.80 C260.93,371.32 261.77,369.38 262.60,367.70 C263.43,366.02 264.37,363.85 265.10,362.70 C265.83,361.55 266.37,360.65 267.00,360.80 C267.63,360.95 268.27,362.65 268.90,363.60 C269.53,364.55 270.07,365.18 270.80,366.50 C271.53,367.82 272.57,369.62 273.30,371.50 C274.03,373.38 274.57,375.90 275.20,377.80 C275.83,379.70 276.37,381.27 277.10,382.90 C277.83,384.53 278.65,386.32 279.60,387.60 C280.55,388.88 281.68,389.70 282.80,390.60 C283.92,391.50 284.82,392.18 286.30,393.00 C287.78,393.82 289.87,394.73 291.70,395.50 C293.53,396.27 294.47,396.87 297.30,397.60 C300.13,398.33 304.92,399.33 308.70,399.90 C312.48,400.47 315.45,400.62 320.00,401.00 C324.55,401.38 331.60,401.95 336.00,402.20 C340.40,402.45 341.50,402.37 346.40,402.50 C351.30,402.63 359.80,402.82 365.40,403.00 C371.00,403.18 370.90,403.35 380.00,403.60 C389.10,403.85 406.67,404.30 420.00,404.50 C433.33,404.70 443.33,404.63 460.00,404.80 C476.67,404.97 496.67,405.27 520.00,405.50 C543.33,405.73 586.67,406.08 600.00,406.20" fill="none" stroke="#66b748" stroke-width="1.7" stroke-linejoin="round"/><path d="M80.00,406.80 C81.72,406.75 88.15,407.30 90.30,406.50 C92.45,405.70 92.20,402.45 92.90,402.00 C93.60,401.55 93.97,403.13 94.50,403.80 C95.03,404.47 95.40,406.13 96.10,406.00 C96.80,405.87 97.75,404.20 98.70,403.00 C99.65,401.80 100.83,400.20 101.80,398.80 C102.77,397.40 103.70,396.17 104.50,394.60 C105.30,393.03 105.90,391.15 106.60,389.40 C107.30,387.65 108.10,385.85 108.70,384.10 C109.30,382.35 109.77,380.65 110.20,378.90 C110.63,377.15 111.03,375.35 111.30,373.60 C111.57,371.85 111.53,370.67 111.80,368.40 C112.07,366.13 112.53,363.07 112.90,360.00 C113.27,356.93 113.60,353.67 114.00,350.00 C114.40,346.33 114.67,342.12 115.30,338.00 C115.93,333.88 116.95,328.47 117.80,325.30 C118.65,322.13 119.55,321.10 120.40,319.00 C121.25,316.90 122.27,315.43 122.90,312.70 C123.53,309.97 123.78,306.38 124.20,302.60 C124.62,298.82 125.00,294.10 125.40,290.00 C125.80,285.90 126.17,282.67 126.60,278.00 C127.03,273.33 127.55,267.33 128.00,262.00 C128.45,256.67 128.87,251.05 129.30,246.00 C129.73,240.95 130.22,233.37 130.60,231.70 C130.98,230.03 131.27,233.62 131.60,236.00 C131.93,238.38 132.33,244.67 132.60,246.00 C132.87,247.33 133.02,246.67 133.20,244.00 C133.38,241.33 133.53,234.67 133.70,230.00 C133.87,225.33 133.98,219.83 134.20,216.00 C134.42,212.17 134.73,209.67 135.00,207.00 C135.27,204.33 135.53,201.97 135.80,200.00 C136.07,198.03 136.27,197.47 136.60,195.20 C136.93,192.93 137.48,189.55 137.80,186.40 C138.12,183.25 138.28,179.03 138.50,176.30 C138.72,173.57 138.88,171.88 139.10,170.00 C139.32,168.12 139.52,167.33 139.80,165.00 C140.08,162.67 140.43,158.13 140.80,156.00 C141.17,153.87 141.60,151.53 142.00,152.20 C142.40,152.87 142.88,157.03 143.20,160.00 C143.52,162.97 143.72,166.33 143.90,170.00 C144.08,173.67 144.13,179.27 144.30,182.00 C144.47,184.73 144.67,184.73 144.90,186.40 C145.13,188.07 145.38,190.40 145.70,192.00 C146.02,193.60 146.43,194.20 146.80,196.00 C147.17,197.80 147.50,200.20 147.90,202.80 C148.30,205.40 148.77,209.28 149.20,211.60 C149.63,213.92 150.13,216.30 150.50,216.70 C150.87,217.10 151.12,217.62 151.40,214.00 C151.68,210.38 151.97,200.67 152.20,195.00 C152.43,189.33 152.57,184.83 152.80,180.00 C153.03,175.17 153.35,168.92 153.60,166.00 C153.85,163.08 154.03,162.67 154.30,162.50 C154.57,162.33 154.95,162.92 155.20,165.00 C155.45,167.08 155.47,172.17 155.80,175.00 C156.13,177.83 156.72,180.30 157.20,182.00 C157.68,183.70 158.32,185.20 158.70,185.20 C159.08,185.20 159.22,183.62 159.50,182.00 C159.78,180.38 160.10,176.08 160.40,175.50 C160.70,174.92 161.00,178.75 161.30,178.50 C161.60,178.25 161.85,176.08 162.20,174.00 C162.55,171.92 163.07,167.50 163.40,166.00 C163.73,164.50 163.93,164.33 164.20,165.00 C164.47,165.67 164.77,167.17 165.00,170.00 C165.23,172.83 165.40,177.00 165.60,182.00 C165.80,187.00 166.02,195.33 166.20,200.00 C166.38,204.67 166.53,206.33 166.70,210.00 C166.87,213.67 167.02,217.00 167.20,222.00 C167.38,227.00 167.60,235.30 167.80,240.00 C168.00,244.70 168.18,249.03 168.40,250.20 C168.62,251.37 168.87,248.70 169.10,247.00 C169.33,245.30 169.57,243.67 169.80,240.00 C170.03,236.33 170.23,230.50 170.50,225.00 C170.77,219.50 171.10,212.50 171.40,207.00 C171.70,201.50 171.97,194.83 172.30,192.00 C172.63,189.17 173.00,189.67 173.40,190.00 C173.80,190.33 174.28,192.92 174.70,194.00 C175.12,195.08 175.47,196.25 175.90,196.50 C176.33,196.75 176.87,196.33 177.30,195.50 C177.73,194.67 178.12,192.67 178.50,191.50 C178.88,190.33 179.27,189.13 179.60,188.50 C179.93,187.87 180.20,187.42 180.50,187.70 C180.80,187.98 181.12,188.53 181.40,190.20 C181.68,191.87 181.82,194.85 182.20,197.70 C182.58,200.55 183.25,205.07 183.70,207.30 C184.15,209.53 184.48,209.62 184.90,211.10 C185.32,212.58 185.77,214.10 186.20,216.20 C186.63,218.30 187.08,220.97 187.50,223.70 C187.92,226.43 188.33,230.68 188.70,232.60 C189.07,234.52 189.35,235.30 189.70,235.20 C190.05,235.10 190.32,233.37 190.80,232.00 C191.28,230.63 192.10,227.33 192.60,227.00 C193.10,226.67 193.40,228.23 193.80,230.00 C194.20,231.77 194.58,235.48 195.00,237.60 C195.42,239.72 195.92,241.68 196.30,242.70 C196.68,243.72 196.95,244.40 197.30,243.70 C197.65,243.00 198.03,240.45 198.40,238.50 C198.77,236.55 199.15,234.83 199.50,232.00 C199.85,229.17 200.25,225.00 200.50,221.50 C200.75,218.00 200.73,214.50 201.00,211.00 C201.27,207.50 201.83,204.00 202.10,200.50 C202.37,197.00 202.37,191.75 202.60,190.00 C202.83,188.25 203.27,193.33 203.50,190.00 C203.73,186.67 203.83,176.67 204.00,170.00 C204.17,163.33 204.30,156.17 204.50,150.00 C204.70,143.83 204.92,136.42 205.20,133.00 C205.48,129.58 205.80,130.23 206.20,129.50 C206.60,128.77 207.10,129.43 207.60,128.60 C208.10,127.77 208.75,125.93 209.20,124.50 C209.65,123.07 210.02,120.95 210.30,120.00 C210.58,119.05 210.68,118.63 210.90,118.80 C211.12,118.97 211.35,119.63 211.60,121.00 C211.85,122.37 212.15,124.33 212.40,127.00 C212.65,129.67 212.87,133.83 213.10,137.00 C213.33,140.17 213.55,143.17 213.80,146.00 C214.05,148.83 214.35,150.83 214.60,154.00 C214.85,157.17 215.08,159.00 215.30,165.00 C215.52,171.00 215.72,183.23 215.90,190.00 C216.08,196.77 216.12,200.77 216.40,205.60 C216.68,210.43 217.17,214.80 217.60,219.00 C218.03,223.20 218.52,226.63 219.00,230.80 C219.48,234.97 220.03,239.47 220.50,244.00 C220.97,248.53 221.38,253.33 221.80,258.00 C222.22,262.67 222.55,267.83 223.00,272.00 C223.45,276.17 224.03,280.00 224.50,283.00 C224.97,286.00 225.38,287.67 225.80,290.00 C226.22,292.33 226.60,294.67 227.00,297.00 C227.40,299.33 227.78,301.50 228.20,304.00 C228.62,306.50 229.10,309.67 229.50,312.00 C229.90,314.33 230.22,316.17 230.60,318.00 C230.98,319.83 231.37,320.73 231.80,323.00 C232.23,325.27 232.65,328.27 233.20,331.60 C233.75,334.93 234.52,339.77 235.10,343.00 C235.68,346.23 236.17,348.83 236.70,351.00 C237.23,353.17 237.72,354.80 238.30,356.00 C238.88,357.20 239.55,358.12 240.20,358.20 C240.85,358.28 241.57,357.45 242.20,356.50 C242.83,355.55 243.50,353.92 244.00,352.50 C244.50,351.08 244.68,350.43 245.20,348.00 C245.72,345.57 246.47,341.90 247.10,337.90 C247.73,333.90 248.37,328.83 249.00,324.00 C249.63,319.17 250.27,313.60 250.90,308.90 C251.53,304.20 252.22,299.70 252.80,295.80 C253.38,291.90 253.85,288.10 254.40,285.50 C254.95,282.90 255.57,280.45 256.10,280.20 C256.63,279.95 257.18,282.03 257.60,284.00 C258.02,285.97 258.25,288.90 258.60,292.00 C258.95,295.10 259.20,298.10 259.70,302.60 C260.20,307.10 260.97,313.95 261.60,319.00 C262.23,324.05 262.98,329.07 263.50,332.90 C264.02,336.73 264.32,339.13 264.70,342.00 C265.08,344.87 265.30,347.28 265.80,350.10 C266.30,352.92 266.97,356.38 267.70,358.90 C268.43,361.42 269.27,363.42 270.20,365.20 C271.13,366.98 272.25,368.55 273.30,369.60 C274.35,370.65 275.55,371.18 276.50,371.50 C277.45,371.82 278.05,371.82 279.00,371.50 C279.95,371.18 281.15,370.65 282.20,369.60 C283.25,368.55 284.25,366.57 285.30,365.20 C286.35,363.83 287.55,362.23 288.50,361.40 C289.45,360.57 290.12,360.00 291.00,360.20 C291.88,360.40 292.92,361.35 293.80,362.60 C294.68,363.85 295.47,366.02 296.30,367.70 C297.13,369.38 297.97,371.08 298.80,372.70 C299.63,374.32 300.42,375.70 301.30,377.40 C302.18,379.10 302.87,381.23 304.10,382.90 C305.33,384.57 307.00,385.98 308.70,387.40 C310.40,388.82 312.42,390.27 314.30,391.40 C316.18,392.53 318.10,393.45 320.00,394.20 C321.90,394.95 323.80,395.42 325.70,395.90 C327.60,396.38 329.52,396.75 331.40,397.10 C333.28,397.45 334.07,397.60 337.00,398.00 C339.93,398.40 344.90,399.12 349.00,399.50 C353.10,399.88 356.43,400.02 361.60,400.30 C366.77,400.58 370.27,400.85 380.00,401.20 C389.73,401.55 406.67,402.13 420.00,402.40 C433.33,402.67 443.33,402.53 460.00,402.80 C476.67,403.07 496.67,403.58 520.00,404.00 C543.33,404.42 586.67,405.08 600.00,405.30" fill="none" stroke="#d0663a" stroke-width="1.7" stroke-linejoin="round"/><rect x="211.2" y="8.2" width="389.2" height="58.3" fill="url(#spec)"/><text x="362" y="45.1" font-family="Liberation Sans" font-size="25" fill="#ffffff">Near Infrared (NIR)</text><text x="58.6" y="413.3" transform="matrix(1 0 0 1.045 0 -18.598)" font-family="Liberation Sans" font-size="21" text-anchor="end">0</text><text x="58.6" y="313.8" transform="matrix(1 0 0 1.045 0 -14.119)" font-family="Liberation Sans" font-size="21" text-anchor="end">2</text><text x="58.6" y="214.2" transform="matrix(1 0 0 1.045 0 -9.639)" font-family="Liberation Sans" font-size="21" text-anchor="end">4</text><text x="58.6" y="114.6" transform="matrix(1 0 0 1.045 0 -5.159)" font-family="Liberation Sans" font-size="21" text-anchor="end">6</text><text x="58.6" y="15.1" transform="matrix(1 0 0 1.045 0 -0.679)" font-family="Liberation Sans" font-size="21" text-anchor="end">8</text><text x="60.06" y="431.40" transform="matrix(1 0 0 1.045 0 -19.413)" font-family="Liberation Sans" font-size="21" fill="#000">0</text><text x="124.62" y="431.40" transform="matrix(1 0 0 1.045 0 -19.413)" font-family="Liberation Sans" font-size="21" fill="#000">200</text><text x="200.87" y="431.40" transform="matrix(1 0 0 1.045 0 -19.413)" font-family="Liberation Sans" font-size="21" fill="#000">400</text><text x="277.11" y="431.40" transform="matrix(1 0 0 1.045 0 -19.413)" font-family="Liberation Sans" font-size="21" fill="#000">600</text><text x="353.35" y="431.40" transform="matrix(1 0 0 1.045 0 -19.413)" font-family="Liberation Sans" font-size="21" fill="#000">800</text><path d="M763 0H583V1147Q518 1085 412 1023Q306 961 221 930V1104Q374 1176 488 1278Q602 1380 649 1476H763Z" fill="#000" transform="translate(423.76,431.40) scale(0.01025,-0.01072)"/><text x="435.44" y="431.40" transform="matrix(1 0 0 1.045 0 -19.413)" font-family="Liberation Sans" font-size="21" fill="#000">000</text><path d="M763 0H583V1147Q518 1085 412 1023Q306 961 221 930V1104Q374 1176 488 1278Q602 1380 649 1476H763Z" fill="#000" transform="translate(500.00,431.40) scale(0.01025,-0.01072)"/><text x="511.68" y="431.40" transform="matrix(1 0 0 1.045 0 -19.413)" font-family="Liberation Sans" font-size="21" fill="#000">200</text><path d="M763 0H583V1147Q518 1085 412 1023Q306 961 221 930V1104Q374 1176 488 1278Q602 1380 649 1476H763Z" fill="#000" transform="translate(576.24,431.40) scale(0.01025,-0.01072)"/><text x="587.92" y="431.40" transform="matrix(1 0 0 1.045 0 -19.413)" font-family="Liberation Sans" font-size="21" fill="#000">400</text><text x="607.60" y="413.30" transform="matrix(1 0 0 1.045 0 -18.598)" font-family="Liberation Sans" font-size="21" fill="#8c8c8c">0</text><path d="M763 0H583V1147Q518 1085 412 1023Q306 961 221 930V1104Q374 1176 488 1278Q602 1380 649 1476H763Z" fill="#8c8c8c" transform="translate(607.60,280.57) scale(0.01025,-0.01072)"/><text x="607.60" y="147.83" transform="matrix(1 0 0 1.045 0 -6.652)" font-family="Liberation Sans" font-size="21" fill="#8c8c8c">2</text><text x="607.60" y="15.10" transform="matrix(1 0 0 1.045 0 -0.679)" font-family="Liberation Sans" font-size="21" fill="#8c8c8c">3</text><text x="332.1" y="469.9" transform="matrix(1 0 0 1.055 0 -25.844)" font-family="Liberation Sans" font-size="27.9" text-anchor="middle">Wavelength (nm)</text><text transform="translate(21.3,217.5) rotate(-90)" font-family="Liberation Sans" font-size="27.6" text-anchor="middle"><tspan font-family="Liberation Serif" font-style="italic" font-size="30">ε</tspan><tspan font-size="16.5" dy="6" dx="-1">2</tspan><tspan dy="-6"> (arb. units)</tspan></text><text transform="translate(640.5,206.5) rotate(90)" font-family="Liberation Sans" font-size="27.6" fill="#8c8c8c" text-anchor="middle">Solar flux (W/m<tspan font-size="18" dy="-11" dx="3.5">2</tspan><tspan dy="11" dx="-0.5">/nm)</tspan></text><line x1="381.8" y1="86.2" x2="444.3" y2="86.2" stroke="#111111" stroke-width="1.4"/><text x="451.0" y="95.8" transform="matrix(1 0 0 1.050 0 -4.790)" font-family="Liberation Sans" font-size="27.2">MoS<tspan font-size="17" dy="6.5" dx="0.3">2</tspan><tspan dy="-6.5" dx="1.8">/ZnO</tspan></text><line x1="381.8" y1="126.2" x2="444.3" y2="126.2" stroke="#64bccb" stroke-width="1.4"/><text x="452.4" y="135.8" transform="matrix(1 0 0 1.050 0 -6.790)" font-family="Liberation Sans" font-size="27.2">WS<tspan font-size="17" dy="6.5" dx="0.3">2</tspan><tspan dy="-6.5" dx="1.8">/ZnO</tspan></text><line x1="381.8" y1="166.0" x2="444.3" y2="166.0" stroke="#66b748" stroke-width="1.4"/><text x="451.0" y="175.6" transform="matrix(1 0 0 1.050 0 -8.780)" font-family="Liberation Sans" font-size="27.2">MoSe<tspan font-size="17" dy="6.5" dx="0.3">2</tspan><tspan dy="-6.5" dx="1.8">/ZnO</tspan></text><line x1="381.8" y1="205.9" x2="444.3" y2="205.9" stroke="#d0663a" stroke-width="1.4"/><text x="452.4" y="215.5" transform="matrix(1 0 0 1.050 0 -10.775)" font-family="Liberation Sans" font-size="27.2">WSe<tspan font-size="17" dy="6.5" dx="0.3">2</tspan><tspan dy="-6.5" dx="1.8">/ZnO</tspan></text><line x1="381.8" y1="243.3" x2="444.8" y2="243.3" stroke="#c6c6c6" stroke-width="1.2"/><text x="451.5" y="252.7" transform="matrix(1 0 0 1.030 0 -7.581)" font-family="Liberation Sans" font-size="26.9">Solar flux</text></svg></body></html>
